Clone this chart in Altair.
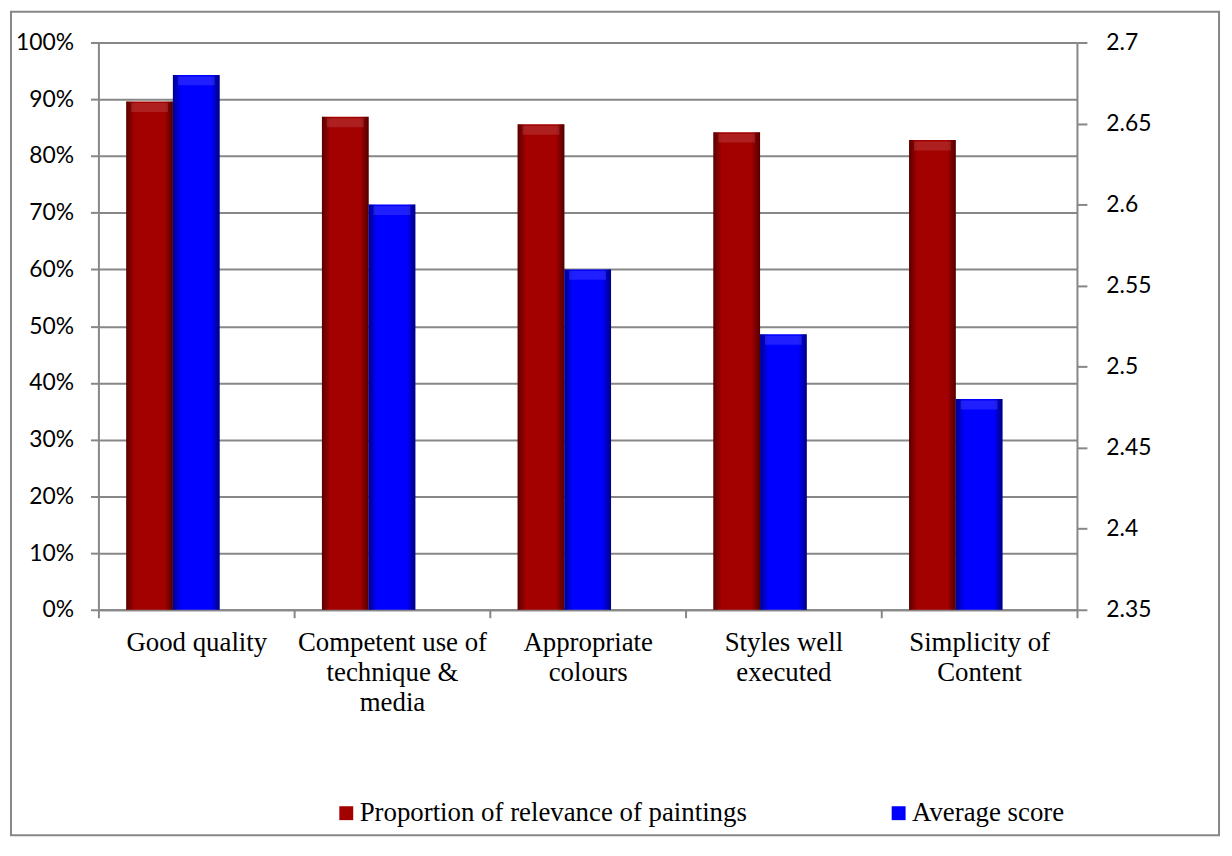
import json
import altair as alt
import pandas as pd

# ---- data ----
categories = [
    "Good quality",
    "Competent use of technique & media",
    "Appropriate colours",
    "Styles well executed",
    "Simplicity of Content",
]
label_lines = [
    ["Good quality"],
    ["Competent use of", "technique &", "media"],
    ["Appropriate", "colours"],
    ["Styles well", "executed"],
    ["Simplicity of", "Content"],
]
proportion = [0.896, 0.869, 0.856, 0.842, 0.828]
average_score = [2.68, 2.60, 2.56, 2.52, 2.48]
series_names = ["Proportion of relevance of paintings", "Average score"]
series_colors = ["#a30000", "#0000ff"]
left_ticks = [0, 0.1, 0.2, 0.3, 0.4, 0.5, 0.6, 0.7, 0.8, 0.9, 1.0]
right_ticks = [2.35, 2.4, 2.45, 2.5, 2.55, 2.6, 2.65, 2.7]

df = pd.DataFrame({"category": categories, "proportion": proportion, "score": average_score})

GRAY = "#878787"
AXIS_FONT = "Lato"
SERIF = "Liberation Serif"
BAR_W = 47

# multi-line category labels
expr = "''"
for c, lines in reversed(list(zip(categories, label_lines))):
    expr = f"datum.label == {json.dumps(c)} ? {json.dumps(lines)} : ({expr})"

x_enc = alt.X(
    "category:N",
    sort=categories,
    scale=alt.Scale(paddingInner=0, paddingOuter=0),
    axis=alt.Axis(
        title=None, labelAngle=0, labelExpr=expr, labelFont=SERIF, labelFontSize=27,
        labelLineHeight=30, labelColor="black", labelBaseline="top", labelPadding=12,
        tickBand="extent", tickSize=8, tickColor=GRAY, tickWidth=2,
        domainColor=GRAY, domainWidth=2, labelLimit=400,
    ),
)

color_scale = alt.Scale(domain=series_names, range=series_colors)
legend = alt.Legend(
    title=None, orient="none", legendX=236, legendY=762, direction="horizontal",
    symbolType="square", symbolSize=196, symbolStrokeWidth=0, labelFont=SERIF,
    labelFontSize=27, labelColor="black", labelLimit=600, columnPadding=139,
    labelOffset=0, padding=0,
)

y_left = alt.Y(
    "proportion:Q",
    scale=alt.Scale(domain=[0, 1], nice=False, zero=True),
    axis=alt.Axis(
        title=None, format="%", values=left_ticks, orient="left", grid=True,
        gridColor=GRAY, gridWidth=2, tickSize=8, tickColor=GRAY, tickWidth=2,
        domainColor=GRAY, domainWidth=2, labelFont=AXIS_FONT, labelFontSize=23,
        labelColor="black", labelPadding=17,
    ),
)
y_right = alt.Y(
    "score:Q",
    scale=alt.Scale(domain=[2.35, 2.7], nice=False, zero=False),
    axis=alt.Axis(
        title=None, format="~g", values=right_ticks, orient="right", grid=False,
        tickSize=10, tickColor=GRAY, tickWidth=2, domainColor=GRAY, domainWidth=2,
        labelFont=AXIS_FONT, labelFontSize=23, labelColor="black", labelPadding=19,
    ),
)

shade = alt.Gradient(
    gradient="linear", x1=0, y1=0, x2=1, y2=0,
    stops=[
        alt.GradientStop(color="rgba(0,0,0,0.45)", offset=0),
        alt.GradientStop(color="rgba(0,0,0,0.0)", offset=0.18),
        alt.GradientStop(color="rgba(0,0,0,0.0)", offset=0.82),
        alt.GradientStop(color="rgba(0,0,0,0.5)", offset=1),
    ],
)

base = alt.Chart(df)

red = base.transform_calculate(series=f"'{series_names[0]}'").mark_bar(
    width=BAR_W, xOffset=-BAR_W
).encode(x=x_enc, y=y_left, color=alt.Color("series:N", scale=color_scale, legend=legend))
red_shade = base.mark_bar(width=BAR_W, xOffset=-BAR_W, fill=shade).encode(x=x_enc, y=y_left)
red_top = base.mark_tick(size=BAR_W - 10, thickness=9, xOffset=-BAR_W, yOffset=6,
                         color="white", opacity=0.12).encode(x=x_enc, y=y_left)

blue = base.transform_calculate(series=f"'{series_names[1]}'").mark_bar(
    width=BAR_W
).encode(x=x_enc, y=y_right, y2=alt.datum(2.35),
         color=alt.Color("series:N", scale=color_scale, legend=legend))
blue_shade = base.mark_bar(width=BAR_W, fill=shade).encode(x=x_enc, y=y_right, y2=alt.datum(2.35))
blue_top = base.mark_tick(size=BAR_W - 10, thickness=9, yOffset=6,
                          color="white", opacity=0.12).encode(x=x_enc, y=y_right)

border = alt.Chart(pd.DataFrame({"k": [0]})).mark_rect(
    filled=False, stroke=GRAY, strokeWidth=2
).encode(x=alt.value(-88), x2=alt.value(1128), y=alt.value(-31), y2=alt.value(798))

chart = alt.layer(
    alt.layer(red, red_shade, red_top),
    alt.layer(blue, blue_shade, blue_top),
    border,
).resolve_scale(y="independent").properties(
    width=985, height=571,
    autosize=alt.AutoSizeParams(type="none"),
    padding={"left": 91, "top": 32, "right": 148, "bottom": 229},
).configure_view(stroke=None).configure(background="white")

chart.save("out.html", embed_options={"renderer": "svg", "actions": False})
